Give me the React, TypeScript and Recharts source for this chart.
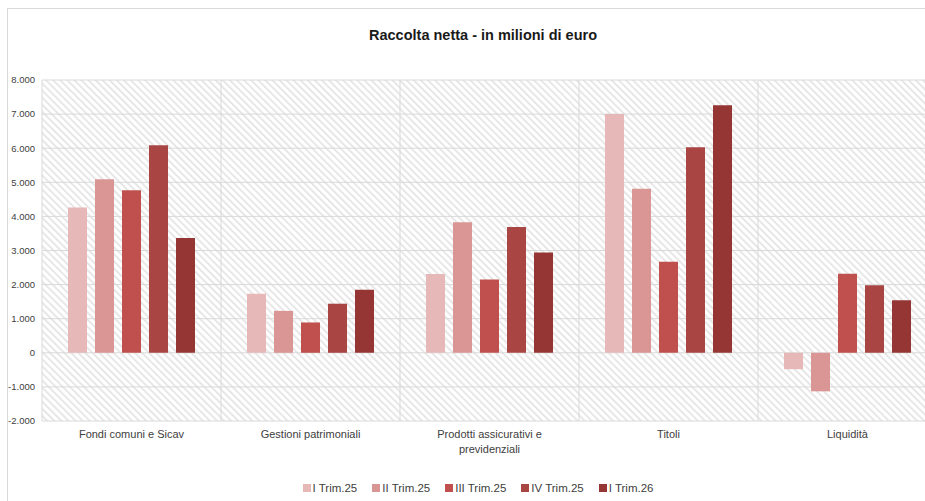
import React from "react";
import { BarChart, Bar, XAxis, YAxis, CartesianGrid, Legend, Text } from "recharts";

const categories = [
  "Fondi comuni e Sicav",
  "Gestioni patrimoniali",
  "Prodotti assicurativi e previdenziali",
  "Titoli",
  "Liquidità",
];

const trim1_25 = [4260, 1730, 2310, 7000, -480];
const trim2_25 = [5090, 1230, 3830, 4810, -1130];
const trim3_25 = [4770, 890, 2150, 2670, 2320];
const trim4_25 = [6090, 1440, 3690, 6030, 1980];
const trim1_26 = [3370, 1850, 2940, 7260, 1540];

const seriesNames = ["I Trim.25", "II Trim.25", "III Trim.25", "IV Trim.25", "I Trim.26"];
const seriesValues = [trim1_25, trim2_25, trim3_25, trim4_25, trim1_26];
const COLORS = ["#E6B8B7", "#DA9694", "#C0504D", "#A94643", "#963634"];

const yTicks = [-2000, -1000, 0, 1000, 2000, 3000, 4000, 5000, 6000, 7000, 8000];

const FONT = "'Liberation Sans', Arial, sans-serif";

const data = categories.map((name, i) => {
  const row: Record<string, string | number> = { name };
  seriesNames.forEach((s, k) => {
    row[s] = seriesValues[k][i];
  });
  return row;
});

// 8000 -> "8.000"
const fmt = (v: number) => {
  const s = String(Math.abs(v)).replace(/\B(?=(\d{3})+(?!\d))/g, ".");
  return v < 0 ? "-" + s : s;
};

const CategoryTick = (props: any) => {
  const { x, y, payload } = props;
  return (
    <Text
      x={x}
      y={y + 9}
      width={150}
      textAnchor="middle"
      verticalAnchor="start"
      lineHeight={15}
      fontSize={11}
      fontFamily={FONT}
      fill="#404040"
    >
      {payload.value}
    </Text>
  );
};

const LegendContent = () => (
  <div
    style={{
      height: 20,
      display: "flex",
      justifyContent: "center",
      alignItems: "center",
      fontFamily: FONT,
      fontSize: 11.5,
      color: "#404040",
    }}
  >
    {seriesNames.map((s, i) => (
      <div key={s} style={{ display: "flex", alignItems: "center", marginRight: i < seriesNames.length - 1 ? 15 : 0 }}>
        <span style={{ width: 8, height: 8, background: COLORS[i], marginRight: 2, display: "inline-block" }} />
        <span>{s}</span>
      </div>
    ))}
  </div>
);

export default function App() {
  return (
    <div style={{ position: "relative", width: 925, height: 501, overflow: "hidden", background: "#fff" }}>
      <style>{`body{margin:0;overflow:hidden}`}</style>
      <div
        style={{
          position: "absolute",
          left: 7,
          top: 8,
          width: 930,
          height: 500,
          borderLeft: "1px solid #d9d9d9",
          borderTop: "1px solid #d9d9d9",
        }}
      />
      <div
        style={{
          position: "absolute",
          top: 27,
          left: 283,
          width: 400,
          textAlign: "center",
          fontFamily: FONT,
          fontWeight: "bold",
          fontSize: 14.5,
          color: "#1a1a1a",
        }}
      >
        Raccolta netta - in milioni di euro
      </div>
      <div style={{ position: "absolute", left: 8, top: 8 }}>
        <BarChart
          width={940}
          height={493}
          data={data}
          margin={{ top: 72, right: 11, bottom: 3, left: 0 }}
          barCategoryGap={26}
          barGap={8}
        >
          <defs>
            <pattern id="hatch" width="5" height="5" patternUnits="userSpaceOnUse" patternTransform="rotate(-45)">
              <rect x="0" y="0" width="5" height="5" fill="#ffffff" />
              <rect x="0" y="0" width="1.6" height="5" fill="#e2e2e2" />
            </pattern>
          </defs>
          <CartesianGrid
            stroke="#d9d9d9"
            fill="url(#hatch)"
            fillOpacity={1}
            verticalCoordinatesGenerator={({ offset }: any) =>
              Array.from({ length: categories.length + 1 }, (_, i) => offset.left + (i * offset.width) / categories.length)
            }
          />
          <XAxis
            dataKey="name"
            axisLine={false}
            tickLine={false}
            tickSize={0}
            tickMargin={0}
            height={57}
            interval={0}
            tick={<CategoryTick />}
          />
          <YAxis
            domain={[-2000, 8000]}
            ticks={yTicks}
            interval={0}
            width={34}
            axisLine={false}
            tickLine={false}
            tickSize={0}
            tickMargin={7}
            tickFormatter={fmt}
            tick={{ fontSize: 9.5, fill: "#404040", fontFamily: FONT }}
          />
          <Legend
            verticalAlign="bottom"
            wrapperStyle={{ left: 0, width: 940 }}
            content={<LegendContent />}
          />
          {seriesNames.map((s, i) => (
            <Bar key={s} dataKey={s} fill={COLORS[i]} isAnimationActive={false} />
          ))}
        </BarChart>
      </div>
    </div>
  );
}
